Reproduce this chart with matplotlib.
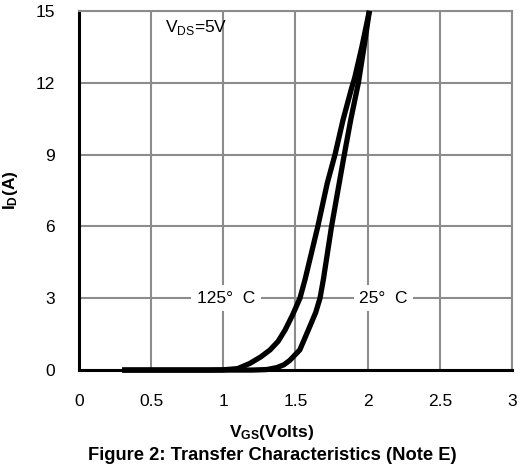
import matplotlib
matplotlib.use("Agg")
import matplotlib.pyplot as plt
import numpy as np

plt.rcParams['font.family'] = ['Liberation Sans', 'DejaVu Sans']
plt.rcParams['mathtext.fontset'] = 'custom'
plt.rcParams['mathtext.rm'] = 'Liberation Sans'
plt.rcParams['mathtext.bf'] = 'Liberation Sans:bold'

# Transfer characteristics
vgs_125 = [0.3, 0.9, 1.0, 1.1, 1.185, 1.26, 1.324, 1.38, 1.428, 1.48, 1.531, 1.566, 1.655, 1.72, 1.774, 1.83, 1.89, 1.91, 1.96, 2.012]
id_125 = [0.0, 0.0, 0.01, 0.06, 0.28, 0.55, 0.84, 1.2, 1.67, 2.3, 3.0, 3.77, 6.0, 7.8, 9.0, 10.46, 11.8, 12.2, 13.5, 15.0]

vgs_25 = [0.3, 1.2, 1.3, 1.37, 1.42, 1.46, 1.53, 1.589, 1.64, 1.67, 1.693, 1.75, 1.832, 1.883, 1.936, 1.975, 2.012]
id_25 = [0.0, 0.0, 0.02, 0.1, 0.22, 0.4, 0.84, 1.67, 2.4, 3.0, 3.77, 6.0, 8.79, 10.46, 12.0, 13.5, 15.0]

xticks = [0, 0.5, 1, 1.5, 2, 2.5, 3]
xticklabels = ['0', '0.5', '1', '1.5', '2', '2.5', '3']
yticks = [0, 3, 6, 9, 12, 15]

fig = plt.figure(figsize=(5.22, 4.72), dpi=100)
ax = fig.add_axes([0.151, 0.216, 0.830, 0.761])

ax.set_xlim(0, 3)
ax.set_ylim(0, 15)
ax.set_xticks(xticks)
ax.set_xticklabels(xticklabels)
ax.set_yticks(yticks)
ax.tick_params(length=0, labelsize=12.5)
ax.tick_params(axis='x', pad=17)
ax.tick_params(axis='y', pad=17)

ax.grid(True, color='#8c8c8c', linewidth=1.5)
ax.set_axisbelow(True)
for s in ['top', 'right']:
    ax.spines[s].set_color('#8c8c8c')
    ax.spines[s].set_linewidth(1.5)
for s in ['left', 'bottom']:
    ax.spines[s].set_color('black')
    ax.spines[s].set_linewidth(2.2)

ax.plot(vgs_125, id_125, color='black', linewidth=3.8, solid_capstyle='butt', clip_on=False, zorder=3)
ax.plot(vgs_25, id_25, color='black', linewidth=3.8, solid_capstyle='butt', clip_on=False, zorder=3)

ax.text(0.6, 14.3, r'V$_{\mathrm{DS}}$=5V', fontsize=12.5, ha='left', va='center')
ax.text(1.02, 3.0, '125°  C', fontsize=12.5, ha='center', va='center',
        bbox=dict(facecolor='white', edgecolor='none', pad=4), zorder=4)
ax.text(2.11, 3.0, '25°  C', fontsize=12.5, ha='center', va='center',
        bbox=dict(facecolor='white', edgecolor='none', pad=4), zorder=4)

ax.set_ylabel(r'$\mathbf{I_D}$$\mathbf{(A)}$', fontsize=12.5)
ax.yaxis.set_label_coords(-0.136, 0.5)
fig.text(272 / 522, 1 - 433 / 472, r'$\mathbf{V_{GS}}$$\mathbf{(Volts)}$',
         fontsize=12.5, ha='center', va='center')
fig.text(272 / 522, 1 - 455 / 472, 'Figure 2: Transfer Characteristics (Note E)',
         fontsize=13.2, fontweight='bold', ha='center', va='center')

fig.savefig('out.png', dpi=100)
